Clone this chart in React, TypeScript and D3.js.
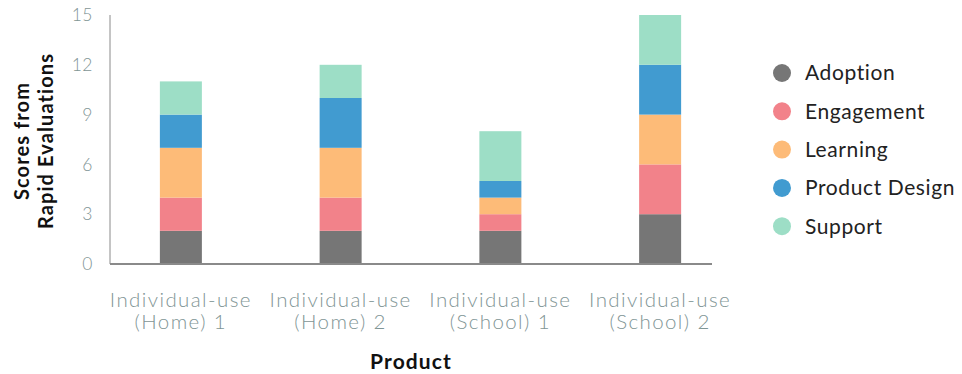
import React from "react";
import * as d3 from "d3";

const products = [
  ["Individual-use", "(Home) 1"],
  ["Individual-use", "(Home) 2"],
  ["Individual-use", "(School) 1"],
  ["Individual-use", "(School) 2"],
];
const productKeys = ["home1", "home2", "school1", "school2"];

const seriesNames = ["Adoption", "Engagement", "Learning", "Product Design", "Support"];
const seriesColors = ["#767676", "#f2828a", "#fdbb78", "#419bd0", "#9ddec6"];

const adoption = [2, 2, 2, 3];
const engagement = [2, 2, 1, 3];
const learning = [3, 3, 1, 3];
const productDesign = [2, 3, 1, 3];
const support = [2, 2, 3, 3];

const yTicks = [0, 3, 6, 9, 12, 15];

const W = 962;
const H = 374;
const FONT = "Lato, 'Open Sans', sans-serif";

export default function App() {
  const values = [adoption, engagement, learning, productDesign, support];
  const rows = productKeys.map((k, i) => {
    const r: Record<string, number | string> = { key: k };
    seriesNames.forEach((s, j) => (r[s] = values[j][i]));
    return r;
  });
  const stack = d3.stack<any>().keys(seriesNames)(rows);

  const x = d3.scaleBand().domain(productKeys).range([101, 740]).paddingInner(0).paddingOuter(0);
  const y = d3.scaleLinear().domain([0, 15]).range([264, 15]);
  const barW = 42;
  const color = d3.scaleOrdinal<string, string>().domain(seriesNames).range(seriesColors);

  return (
    <svg width={W} height={H} style={{ position: "absolute", left: 0, top: 0 }}>
      <rect width={W} height={H} fill="#fff" />
      {stack.map((layer) =>
        layer.map((d, i) => {
          const cx = (x(productKeys[i]) as number) + x.bandwidth() / 2;
          return (
            <rect
              key={layer.key + i}
              x={cx - barW / 2}
              y={y(d[1])}
              width={barW}
              height={y(d[0]) - y(d[1])}
              fill={color(layer.key)}
            />
          );
        })
      )}
      {/* axes */}
      <line x1={110} x2={110} y1={15} y2={264} stroke="#8a8a8a" strokeWidth={1} />
      <line x1={110} x2={712} y1={264} y2={264} stroke="#8a8a8a" strokeWidth={2} />
      {yTicks.map((t) => (
        <text
          key={t}
          x={93}
          y={y(t)}
          dy="0.35em"
          textAnchor="end"
          fontFamily={FONT}
          fontWeight={300}
          fontSize={17.5}
          letterSpacing={0.5}
          fill="#7f9595"
        >
          {t}
        </text>
      ))}
      {products.map((lines, i) => {
        const cx = (x(productKeys[i]) as number) + x.bandwidth() / 2;
        return (
          <text
            key={i}
            textAnchor="middle"
            fontFamily={FONT}
            fontWeight={300}
            fontSize={20.5}
            letterSpacing={1.4}
            fill="#7f9595"
          >
            <tspan x={cx} y={307}>{lines[0]}</tspan>
            <tspan x={cx} y={329}>{lines[1]}</tspan>
          </text>
        );
      })}
      <text
        x={411}
        y={369}
        textAnchor="middle"
        fontFamily={FONT}
        fontWeight={700}
        fontSize={21}
        letterSpacing={1.1}
        fill="#111"
      >
        Product
      </text>
      <text
        transform="translate(0,141) rotate(-90)"
        textAnchor="middle"
        fontFamily={FONT}
        fontWeight={700}
        fontSize={20}
        letterSpacing={1.1}
        fill="#111"
      >
        <tspan x={0} y={29}>Scores from</tspan>
        <tspan x={0} y={53}>Rapid Evaluations</tspan>
      </text>
      {seriesNames.map((s, i) => {
        const cy = 73 + i * 38.3;
        return (
          <g key={s}>
            <circle cx={782} cy={cy} r={9} fill={color(s)} />
            <text
              x={805}
              y={cy}
              dy="0.35em"
              fontFamily={FONT}
              fontWeight={400}
              fontSize={21}
              letterSpacing={0.6}
              fill="#222"
            >
              {s}
            </text>
          </g>
        );
      })}
    </svg>
  );
}
